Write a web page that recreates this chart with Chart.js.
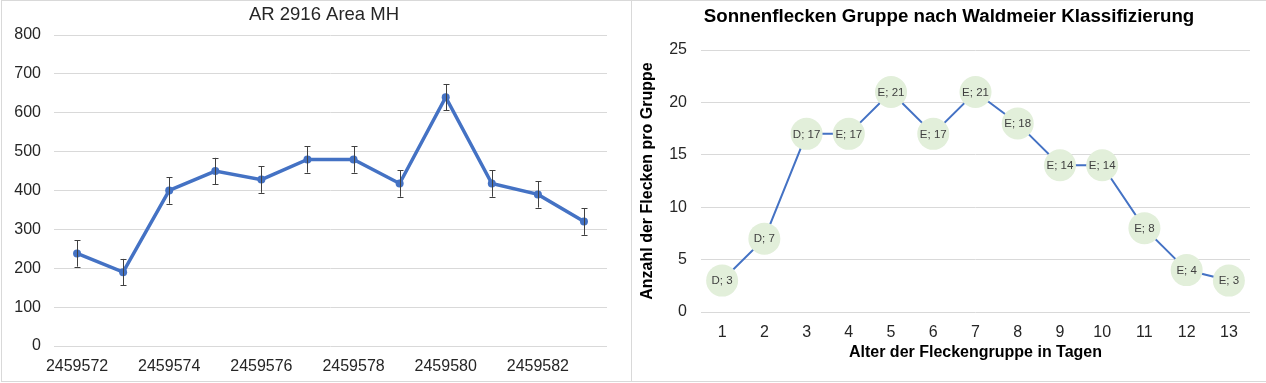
<!DOCTYPE html>
<html>
<head>
<meta charset="utf-8">
<script src="https://cdn.jsdelivr.net/npm/chart.js@4"></script>
<style>
  html, body { margin: 0; padding: 0; background: #fff; }
  body { width: 1266px; height: 383px; position: relative; overflow: hidden; }
  .panel { position: absolute; box-sizing: border-box; border: 1px solid #d9d9d9; }
  #p1 { left: 1px; top: 0px; width: 631px; height: 382px; }
  #p2 { left: 631px; top: 0px; width: 636px; height: 382px; }
  .wrap { position: absolute; }
  #w1 { left: 2px; top: 1px; width: 644px; height: 380px; }
  #w2 { left: 632px; top: 1px; width: 634px; height: 380px; }
  canvas { display: block; }
</style>
</head>
<body>
<div class="panel" id="p1"></div>
<div class="panel" id="p2"></div>
<div class="wrap" id="w1"><canvas id="c1" width="644" height="380"></canvas></div>
<div class="wrap" id="w2"><canvas id="c2" width="634" height="380"></canvas></div>
<script>
// ---- Left chart data ----
const jdDays = ['2459572','2459573','2459574','2459575','2459576','2459577','2459578','2459579','2459580','2459581','2459582','2459583'];
const areaMH = [238, 190, 400, 450, 428, 480, 480, 418, 640, 418, 390, 320];
const areaErr = [34, 34, 34, 34, 34, 34, 34, 34, 34, 34, 34, 34];
const areaTicks = [0, 100, 200, 300, 400, 500, 600, 700, 800];

// ---- Right chart data ----
const ageDays = ['1','2','3','4','5','6','7','8','9','10','11','12','13'];
const spotCounts = [3, 7, 17, 17, 21, 17, 21, 18, 14, 14, 8, 4, 3];
const waldmeierClass = ['D','D','D','E','E','E','E','E','E','E','E','E','E'];
const countTicks = [0, 5, 10, 15, 20, 25];

const FONT = "'Liberation Sans', Arial, sans-serif";
const BLUE = '#4472C4';
const GRID = '#d9d9d9';
const TXT = '#262626';

// empty spacer axis on the right side (keeps the title centred like the original)
function spacerAxis(w) {
  return {
    type: 'linear', position: 'right', display: true,
    grid: { display: false }, border: { display: false },
    ticks: { display: false },
    afterFit(s) { s.width = w; }
  };
}

const errorBarPlugin = {
  id: 'errorBars',
  afterDatasetsDraw(chart) {
    const ctx = chart.ctx;
    const xs = chart.scales.x, ys = chart.scales.y;
    ctx.save();
    ctx.strokeStyle = '#404040';
    ctx.lineWidth = 1;
    areaMH.forEach((v, i) => {
      const x = Math.round(xs.getPixelForValue(i)) + 0.5;
      const yt = ys.getPixelForValue(v + areaErr[i]);
      const yb = ys.getPixelForValue(v - areaErr[i]);
      ctx.beginPath();
      ctx.moveTo(x, yt); ctx.lineTo(x, yb);
      ctx.moveTo(x - 3, Math.round(yt) + 0.5); ctx.lineTo(x + 3, Math.round(yt) + 0.5);
      ctx.moveTo(x - 3, Math.round(yb) + 0.5); ctx.lineTo(x + 3, Math.round(yb) + 0.5);
      ctx.stroke();
    });
    ctx.restore();
  }
};

new Chart(document.getElementById('c1'), {
  type: 'line',
  data: {
    labels: jdDays,
    datasets: [{
      data: areaMH,
      yAxisID: 'y',
      borderColor: BLUE,
      backgroundColor: BLUE,
      borderWidth: 3.5,
      pointRadius: 4,
      pointBackgroundColor: BLUE,
      pointBorderWidth: 0,
      tension: 0
    }]
  },
  options: {
    responsive: false,
    animation: false,
    events: [],
    layout: { padding: 0 },
    plugins: {
      legend: { display: false },
      tooltip: { enabled: false },
      title: {
        display: true,
        text: 'AR 2916 Area MH',
        color: TXT,
        font: { family: FONT, size: 18.5, weight: 'normal' },
        padding: { top: 2.5, bottom: 9.3 }
      }
    },
    scales: {
      x: {
        type: 'category',
        offset: true,
        grid: { display: false },
        border: { display: false },
        ticks: {
          autoSkip: false,
          maxRotation: 0,
          padding: 3,
          color: TXT,
          font: { family: FONT, size: 16 },
          callback: function(val, idx) { return idx % 2 === 0 ? jdDays[idx] : ''; }
        },
        afterFit(s) { s.height = 35; }
      },
      y: {
        min: 0, max: 800,
        afterBuildTicks(s) { s.ticks = areaTicks.map(v => ({ value: v })); },
        grid: { color: GRID, drawTicks: false, lineWidth: 1 },
        border: { display: false },
        ticks: { padding: 13, color: TXT, font: { family: FONT, size: 16 } },
        afterFit(s) { s.width = 52; }
      },
      ySpace: spacerAxis(39)
    }
  },
  plugins: [errorBarPlugin]
});

const bubbleLabelPlugin = {
  id: 'bubbleLabels',
  afterDatasetsDraw(chart) {
    const ctx = chart.ctx;
    const meta = chart.getDatasetMeta(0);
    ctx.save();
    ctx.fillStyle = '#404040';
    ctx.font = '11.5px ' + FONT;
    ctx.textAlign = 'center';
    ctx.textBaseline = 'middle';
    meta.data.forEach((pt, i) => {
      ctx.fillText(waldmeierClass[i] + '; ' + spotCounts[i], pt.x, pt.y + 0.5);
    });
    ctx.restore();
  }
};

new Chart(document.getElementById('c2'), {
  type: 'line',
  data: {
    labels: ageDays,
    datasets: [{
      data: spotCounts,
      yAxisID: 'y',
      borderColor: BLUE,
      borderWidth: 2,
      pointRadius: 16,
      pointBackgroundColor: '#E2EFDA',
      pointBorderWidth: 0,
      tension: 0
    }]
  },
  options: {
    responsive: false,
    animation: false,
    events: [],
    layout: { padding: 0 },
    plugins: {
      legend: { display: false },
      tooltip: { enabled: false },
      title: {
        display: true,
        text: 'Sonnenflecken Gruppe nach Waldmeier Klassifizierung',
        color: '#000',
        font: { family: FONT, size: 18.7, weight: 'bold' },
        padding: { top: 4.5, bottom: 22.1 }
      }
    },
    scales: {
      x: {
        type: 'category',
        offset: true,
        grid: { display: false },
        border: { display: false },
        ticks: {
          autoSkip: false,
          maxRotation: 0,
          padding: 3,
          color: TXT,
          font: { family: FONT, size: 16 }
        },
        title: {
          display: true,
          text: 'Alter der Fleckengruppe in Tagen',
          color: '#000',
          font: { family: FONT, size: 16, weight: 'bold' },
          padding: { top: 0, bottom: 19 }
        },
        afterFit(s) { s.height = 69; }
      },
      y: {
        min: 0, max: 25,
        afterBuildTicks(s) { s.ticks = countTicks.map(v => ({ value: v })); },
        grid: { color: GRID, drawTicks: false, lineWidth: 1 },
        border: { display: false },
        ticks: { padding: 14, color: TXT, font: { family: FONT, size: 16 } },
        title: {
          display: true,
          text: 'Anzahl der Flecken pro Gruppe',
          color: '#000',
          font: { family: FONT, size: 16, weight: 'bold' },
          padding: { top: 6, bottom: 0 }
        },
        afterFit(s) { s.width = 69; }
      },
      ySpace: spacerAxis(15)
    }
  },
  plugins: [bubbleLabelPlugin]
});
</script>
</body>
</html>
